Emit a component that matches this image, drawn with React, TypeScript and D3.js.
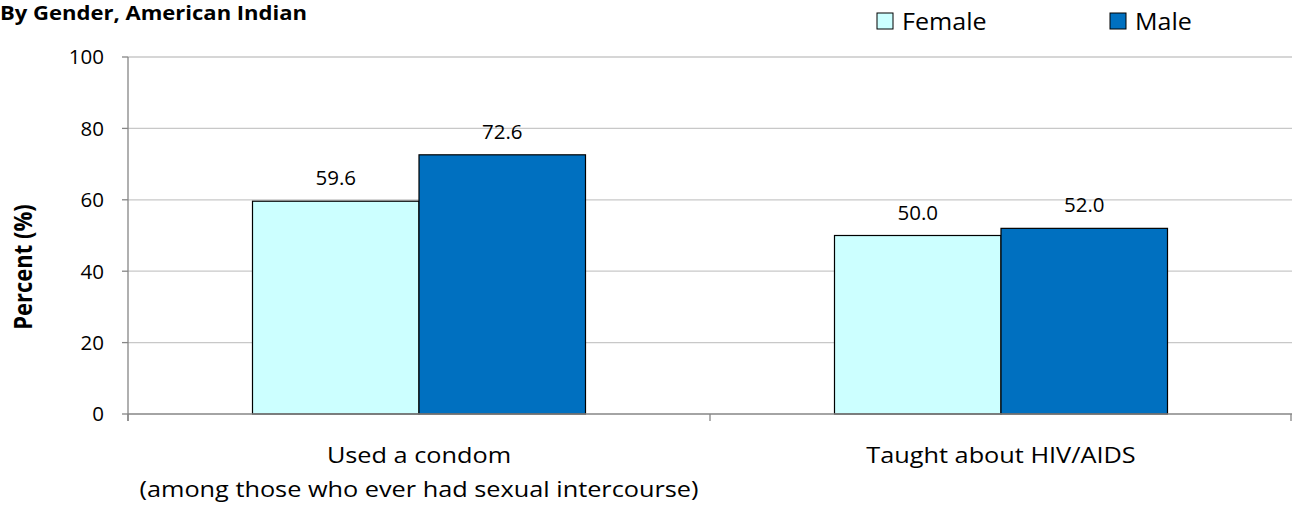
import React from "react";
import * as d3 from "d3";

const categories = ["Used a condom", "Taught about HIV/AIDS"];
const categorySubLabels = ["(among those who ever had sexual intercourse)", ""];
const seriesNames = ["Female", "Male"];
const femaleValues = [59.6, 50.0];
const maleValues = [72.6, 52.0];
const yTicks = [0, 20, 40, 60, 80, 100];
const colors = ["#CCFFFF", "#0070C0"];

const W = 1292;
const H = 506;
const FONT = "'Open Sans', 'Noto Sans', sans-serif";

function T(props: { x: number; y: number; sx?: number; size: number; anchor?: string; bold?: boolean; children: React.ReactNode; dy?: string }) {
  const { x, y, sx = 1, size, anchor = "start", bold, children, dy } = props;
  return (
    <text transform={`translate(${x},${y}) scale(${sx},1)`} fontSize={size} textAnchor={anchor} fontWeight={bold ? "bold" : "normal"} fill="#000" dy={dy}>
      {children}
    </text>
  );
}

export default function App() {
  const left = 128, right = 1292, top = 57, bottom = 414;
  const x0 = d3.scaleBand<string>().domain(categories).range([left, right]).padding(0);
  const x1 = d3.scaleBand<string>().domain(seriesNames).range([0, 333]).padding(0);
  const y = d3.scaleLinear().domain([0, 100]).range([bottom, top]);
  const series = [femaleValues, maleValues];

  return (
    <svg width={W} height={H} style={{ position: "absolute", left: 0, top: 0, background: "#fff" }} fontFamily={FONT}>
      <T x={0} y={20} size={19} sx={1.16} bold>By Gender, American Indian</T>
      {/* legend */}
      {seriesNames.map((s, i) => {
        const lx = [877, 1110][i];
        return (
          <g key={s}>
            <rect x={lx} y={13} width={16} height={16} fill={colors[i]} stroke="#000" strokeWidth={1} />
            <T x={lx + 25} y={29.5} size={23} sx={1.09}>{s}</T>
          </g>
        );
      })}
      {/* gridlines */}
      {yTicks.filter(t => t > 0).map(t => (
        <line key={t} x1={left} x2={right} y1={y(t)} y2={y(t)} stroke="#C8C8C8" strokeWidth={1.3} />
      ))}
      {/* y ticks and labels */}
      {yTicks.map(t => (
        <g key={t}>
          <line x1={left - 6} x2={left} y1={y(t)} y2={y(t)} stroke="#868686" strokeWidth={1.3} />
          <T x={left - 24} y={y(t)} dy="0.36em" anchor="end" size={20.5}>{t}</T>
        </g>
      ))}
      {/* bars */}
      {categories.map((c, ci) => {
        const gx = x0(c)! + (x0.bandwidth() - 333) / 2;
        return (
          <g key={c}>
            {seriesNames.map((s, si) => {
              const v = series[si][ci];
              const bx = gx + x1(s)!;
              return (
                <g key={s}>
                  <rect x={bx} y={y(v)} width={x1.bandwidth()} height={bottom - y(v)} fill={colors[si]} stroke="#000" strokeWidth={1.2} />
                  <T x={bx + x1.bandwidth() / 2} y={y(v) - 16} anchor="middle" size={20.5}>{v.toFixed(1)}</T>
                </g>
              );
            })}
          </g>
        );
      })}
      {/* axes */}
      <line x1={left} x2={left} y1={top} y2={bottom + 7} stroke="#868686" strokeWidth={1.3} />
      <line x1={left} x2={right} y1={bottom} y2={bottom} stroke="#868686" strokeWidth={1.3} />
      {[left, x0(categories[1])!, right - 1].map((tx, i) => (
        <line key={i} x1={tx} x2={tx} y1={bottom} y2={bottom + 7} stroke="#868686" strokeWidth={1.3} />
      ))}
      {categories.map((c, ci) => {
        const cx = x0(c)! + x0.bandwidth() / 2;
        return (
          <g key={c}>
            <T x={cx} y={463} anchor="middle" size={22} sx={1.15}>{c}</T>
            {categorySubLabels[ci] && (
              <T x={cx} y={497} anchor="middle" size={22} sx={1.15}>{categorySubLabels[ci]}</T>
            )}
          </g>
        );
      })}
      <text transform={`translate(32, 267) rotate(-90) scale(1,1.15)`} textAnchor="middle" fontSize={22} fontWeight="bold" fill="#000">Percent (%)</text>
    </svg>
  );
}
